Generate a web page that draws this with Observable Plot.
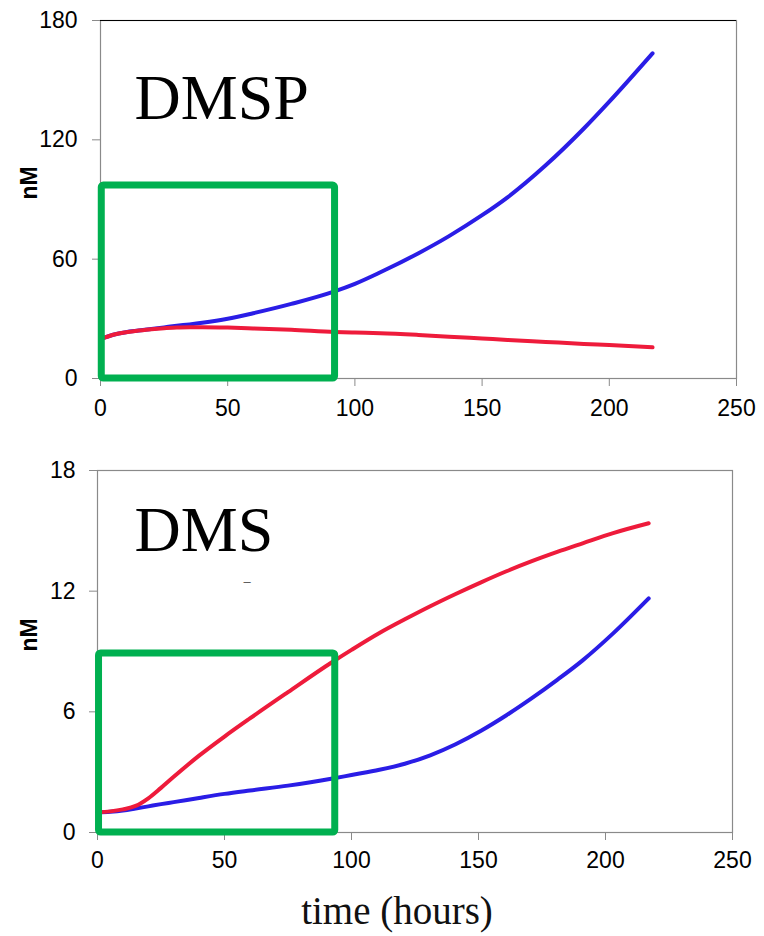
<!DOCTYPE html>
<html>
<head>
<meta charset="utf-8">
<script src="https://cdn.jsdelivr.net/npm/d3@7"></script>
<script src="https://cdn.jsdelivr.net/npm/@observablehq/plot@0.6"></script>
<style>
  html, body { margin: 0; padding: 0; background: white; }
  #wrap { position: relative; width: 764px; height: 936px; overflow: hidden; }
  #top, #bottom { position: absolute; left: 0; }
  #top { top: 0; }
  #bottom { top: 450px; }
</style>
</head>
<body>
<div id="wrap"><div id="top"></div><div id="bottom"></div></div>
<script>
// ---- data ----
const xTicks = [0, 50, 100, 150, 200, 250];

const dmspHours = [0, 5, 10, 15, 20, 25, 30, 35, 40, 50, 60, 75, 92, 100, 110, 125, 137, 150, 160, 175, 190, 200, 217];
const dmspBlue  = [19.8, 22.0, 23.3, 24.1, 24.9, 25.7, 26.5, 27.2, 28.0, 30.0, 32.8, 37.5, 43.8, 47.6, 53.4, 63.0, 71.6, 82.1, 91.1, 107.2, 125.7, 139.2, 163.5];
const dmspRed   = [19.8, 22.0, 23.3, 24.1, 24.8, 25.3, 25.6, 25.8, 25.8, 25.6, 25.2, 24.5, 23.4, 23.1, 22.8, 21.9, 21.0, 20.1, 19.4, 18.4, 17.4, 16.8, 15.7];
const dmspYTicks = [0, 60, 120, 180];

const dmsHours = [0, 5, 10, 15, 20, 25, 30, 40, 50, 60, 75, 92, 100, 111, 121, 131, 141, 151, 161, 171, 181, 191, 203, 217];
const dmsBlue  = [1.0, 1.03, 1.09, 1.19, 1.3, 1.41, 1.51, 1.72, 1.92, 2.09, 2.33, 2.67, 2.86, 3.12, 3.42, 3.84, 4.39, 5.06, 5.83, 6.68, 7.59, 8.56, 9.9, 11.64];
const dmsRed   = [1.0, 1.05, 1.15, 1.32, 1.7, 2.22, 2.77, 3.82, 4.77, 5.67, 6.98, 8.44, 9.08, 9.92, 10.6, 11.25, 11.86, 12.44, 12.99, 13.49, 13.95, 14.38, 14.89, 15.38];
const dmsYTicks = [0, 6, 12, 18];

const dmspBox = [{x1: 0.5, x2: 92.2, y1: 0, y2: 97}];
const dmsBox  = [{x1: 0.6, x2: 93.6, y1: 0, y2: 8.9}];

const yLabel = "nM";
const xLabel = "time (hours)";

// ---- drawing ----
const BLUE = "#2a1de6", RED = "#ee1b3b", GREEN = "#00b050", GRAY = "#8a8a8a";
const SANS = "'Liberation Sans', Arial, sans-serif";
const SERIF = "'Liberation Serif', 'Times New Roman', serif";

function rows(hours, vals) { return hours.map((h, i) => ({h, v: vals[i]})); }

function panel(o) {
  return Plot.plot({
    width: 764,
    height: o.height,
    marginTop: o.marginTop,
    marginBottom: o.marginBottom,
    marginLeft: o.marginLeft,
    marginRight: o.marginRight,
    style: {fontFamily: SANS, fontSize: "23px", background: "white", color: "black"},
    x: {domain: [0, 250]},
    y: {domain: o.yDomain},
    marks: [
      Plot.frame({stroke: GRAY, strokeWidth: 1.2}),
      o.topBlack ? Plot.ruleY([o.yDomain[1]], {stroke: "black", strokeWidth: 1.2}) : null,
      Plot.axisX({ticks: xTicks, tickSize: 8, tickPadding: o.xPad, stroke: GRAY, fill: "black", label: null, fontSize: 23}),
      Plot.axisY({ticks: o.yTicks, tickSize: 8, tickPadding: o.yPad, stroke: GRAY, fill: "black", label: null, fontSize: 23}),
      Plot.text([yLabel], {frameAnchor: "left", dx: o.labelDx, rotate: -90, fontWeight: "bold", fontSize: 23, fill: "black"}),
      Plot.text([o.title], {frameAnchor: "top-left", dx: o.titleDx, dy: o.titleDy, textAnchor: "start", lineAnchor: "bottom", fontFamily: SERIF, fontSize: 64, fill: "black"}),
      ...(o.extra || []),
      Plot.line(rows(o.hours, o.blue), {x: "h", y: "v", stroke: BLUE, strokeWidth: 4, curve: "monotone-x"}),
      Plot.line(rows(o.hours, o.red), {x: "h", y: "v", stroke: RED, strokeWidth: 4, curve: "monotone-x"}),
      Plot.rect(o.box, {x1: "x1", x2: "x2", y1: "y1", y2: "y2", fill: "none", stroke: GREEN, strokeWidth: 7, rx: 2})
    ]
  });
}

document.getElementById("top").append(panel({
  height: 430, marginTop: 20, marginBottom: 52, marginLeft: 100, marginRight: 28,
  yDomain: [0, 180], yTicks: dmspYTicks, hours: dmspHours, blue: dmspBlue, red: dmspRed,
  box: dmspBox, title: "DMSP", titleDx: 34, titleDy: 98, labelDx: -71, xPad: 13, yPad: 15, topBlack: true
}));

document.getElementById("bottom").append(panel({
  height: 486, marginTop: 20, marginBottom: 104, marginLeft: 97, marginRight: 32,
  yDomain: [0, 18], yTicks: dmsYTicks, hours: dmsHours, blue: dmsBlue, red: dmsRed,
  box: dmsBox, title: "DMS", titleDx: 37, titleDy: 80, labelDx: -68, xPad: 11, yPad: 14, topBlack: false,
  extra: [
    Plot.text(["–"], {frameAnchor: "top-left", dx: 146, dy: 106, fontSize: 13, fill: "#555"}),
    Plot.text([xLabel], {frameAnchor: "bottom", dx: -18, dy: 91, lineAnchor: "bottom", fontFamily: SERIF, fontSize: 39, fill: "#111"})
  ]
}));
</script>
</body>
</html>
